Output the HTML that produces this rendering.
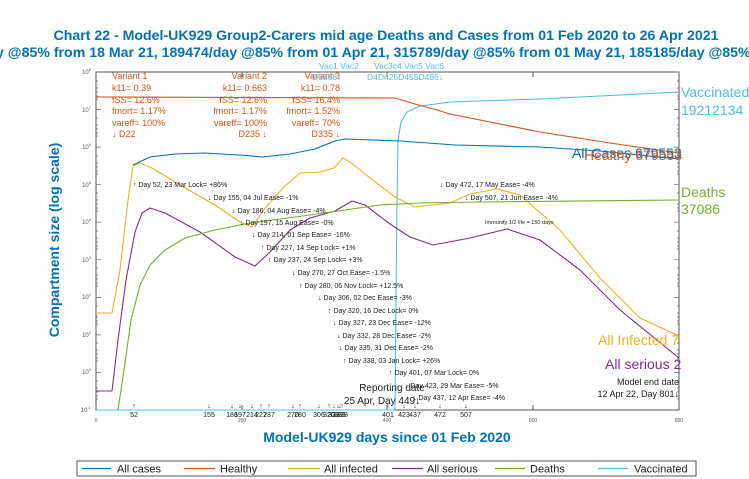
<!DOCTYPE html>
<html><head><meta charset="utf-8"><style>
html,body{margin:0;padding:0;background:#fff;}
svg{display:block;font-family:"Liberation Sans",Arial,sans-serif;}
</style></head><body>
<svg width="749" height="479" viewBox="0 0 749 479" xmlns="http://www.w3.org/2000/svg">
<rect width="749" height="479" fill="#fff"/>
<text x="386" y="40" text-anchor="middle" font-size="14" font-weight="bold" fill="#0072BD" textLength="665" lengthAdjust="spacingAndGlyphs">Chart 22 - Model-UK929 Group2-Carers mid age Deaths and Cases from 01 Feb 2020 to 26 Apr 2021</text>
<text x="-4" y="57" font-size="14" font-weight="bold" fill="#0072BD" textLength="790" lengthAdjust="spacingAndGlyphs">y @85% from 18 Mar 21, 189474/day @85% from 01 Apr 21, 315789/day @85% from 01 May 21, 185185/day @85% from</text>
<rect x="96" y="72" width="583" height="338" fill="none" stroke="#555" stroke-width="1"/>
<g stroke="#555" stroke-width="1">
<line x1="242" y1="410" x2="242" y2="405"/><line x1="387" y1="410" x2="387" y2="405"/><line x1="533" y1="410" x2="533" y2="405"/>
<line x1="242" y1="72" x2="242" y2="77"/><line x1="387" y1="72" x2="387" y2="77"/><line x1="533" y1="72" x2="533" y2="77"/>
</g>
<g stroke="#666" stroke-width="0.7">
<path d="M96 72h5M96 109.5h5M96 147.1h5M96 184.7h5M96 222.2h5M96 259.8h5M96 297.4h5M96 334.9h5M96 372.4h5M679 72h-5M679 109.5h-5M679 147.1h-5M679 184.7h-5M679 222.2h-5M679 259.8h-5M679 297.4h-5M679 334.9h-5M679 372.4h-5"/>
<path d="M96 81h2M96 88h2M96 92h2M96 96h2M96 99h2M96 118h2M96 125h2M96 129h2M96 133h2M96 136h2M96 156h2M96 163h2M96 167h2M96 171h2M96 174h2M96 193h2M96 200h2M96 204h2M96 208h2M96 211h2M96 231h2M96 238h2M96 242h2M96 246h2M96 249h2M96 268h2M96 275h2M96 279h2M96 283h2M96 286h2M96 306h2M96 313h2M96 317h2M96 321h2M96 324h2M96 343h2M96 350h2M96 354h2M96 358h2M96 361h2M96 381h2M96 388h2M96 392h2M96 396h2M96 399h2"/>
<path d="M679 81h-2M679 88h-2M679 92h-2M679 96h-2M679 99h-2M679 118h-2M679 125h-2M679 129h-2M679 133h-2M679 136h-2M679 156h-2M679 163h-2M679 167h-2M679 171h-2M679 174h-2M679 193h-2M679 200h-2M679 204h-2M679 208h-2M679 211h-2M679 231h-2M679 238h-2M679 242h-2M679 246h-2M679 249h-2M679 268h-2M679 275h-2M679 279h-2M679 283h-2M679 286h-2M679 306h-2M679 313h-2M679 317h-2M679 321h-2M679 324h-2M679 343h-2M679 350h-2M679 354h-2M679 358h-2M679 361h-2M679 381h-2M679 388h-2M679 392h-2M679 396h-2M679 399h-2"/>
</g>
<g font-size="6" fill="#555" text-anchor="end">
<text x="91" y="74">10<tspan font-size="4" dy="-3">8</tspan></text>
<text x="91" y="112">10<tspan font-size="4" dy="-3">7</tspan></text>
<text x="91" y="149">10<tspan font-size="4" dy="-3">6</tspan></text>
<text x="91" y="187">10<tspan font-size="4" dy="-3">5</tspan></text>
<text x="91" y="224">10<tspan font-size="4" dy="-3">4</tspan></text>
<text x="91" y="262">10<tspan font-size="4" dy="-3">3</tspan></text>
<text x="91" y="299">10<tspan font-size="4" dy="-3">2</tspan></text>
<text x="91" y="337">10<tspan font-size="4" dy="-3">1</tspan></text>
<text x="91" y="374">10<tspan font-size="4" dy="-3">0</tspan></text>
<text x="91" y="412">10<tspan font-size="4" dy="-3">-1</tspan></text>
</g>
<g font-size="5" fill="#555" text-anchor="middle">
<text x="96" y="422">0</text><text x="242" y="422">200</text><text x="387" y="422">400</text><text x="533" y="422">600</text><text x="679" y="422">800</text>
</g>
<g fill="none" stroke-width="1.1" stroke-linejoin="round">
<path stroke="#4DBEEE" d="M96 410H395L396 300L397 200L398 140L401 122L407 112L420 106L450 102L540 99L679 92"/>
<path stroke="#D95319" d="M96 97L395 98L415 104L437 110L450 114L540 132L610 143L679 153"/>
<path stroke="#0072BD" d="M133 165L150 157L175 154L205 153L240 155L262 157L290 154L315 149L335 141L345 139L400 141L455 145L540 147L600 151L679 159"/>
<path stroke="#EDB120" d="M96 313H112L120 270L128 200L133 166L140 163L152 168L180 185L215 205L240 222L252 227L265 208L285 186L300 173L320 172L334 168L343 158L350 162L370 178L395 197L415 207L450 203L470 194L497 189L520 195L560 230L600 278L640 318L679 336"/>
<path stroke="#7E2F8E" d="M96 391H112L118 340L126 280L135 232L142 213L150 208L165 213L200 232L235 257L255 266L270 252L290 230L310 218L335 211L352 201L365 205L390 224L410 237L433 245L470 238L507 229L540 240L580 270L620 310L679 358"/>
<path stroke="#77AC30" d="M118 410L124 370L131 320L140 285L150 265L165 250L185 238L215 230L250 223L280 219L310 215L345 210L380 205L420 203L480 202L679 200"/>
</g>
<g font-size="14">
<text x="681" y="97" fill="#4DBEEE">Vaccinated</text>
<text x="681" y="115" fill="#4DBEEE">19212134</text>
<text x="572" y="158" fill="#0072BD">All Cases 679553</text>
<text x="584" y="160" fill="#D95319">Healthy 679553</text>
<text x="681" y="197" fill="#77AC30">Deaths</text>
<text x="681" y="214" fill="#77AC30">37086</text>
<text x="598" y="345" fill="#EDB120">All Infected 7</text>
<text x="605" y="369" fill="#7E2F8E">All serious 2</text>
</g>
<g font-size="9" fill="#D95319">
<text x="112" y="79">Variant 1</text><text x="112" y="91">k11= 0.39</text><text x="112" y="103">fSS= 12.6%</text><text x="112" y="114">fmort= 1.17%</text><text x="112" y="126">vareff= 100%</text><text x="112" y="137">↓ D22</text>
</g>
<g font-size="9" fill="#D95319" text-anchor="end">
<text x="267" y="79">Variant 2</text><text x="267" y="91">k11= 0.663</text><text x="267" y="103">fSS= 12.6%</text><text x="267" y="114">fmort= 1.17%</text><text x="267" y="126">vareff= 100%</text><text x="267" y="137">D235 ↓</text>
<text x="340" y="79">Variant 3</text><text x="340" y="91">k11= 0.78</text><text x="340" y="103">fSS= 16.4%</text><text x="340" y="114">fmort= 1.52%</text><text x="340" y="126">vareff= 70%</text><text x="340" y="137">D335 ↓</text>
</g>
<g font-size="8.5" fill="#4DBEEE">
<text x="319" y="69">Vac1 Vac2</text><text x="374" y="69">Vac3c4 Vac5 Vac6</text>
<text x="312" y="80">D3366↓</text><text x="367" y="80">D4D425D455D486↓</text>
</g>
<g font-size="7" fill="#222">
<text x="133" y="187">↑ Day 52, 23 Mar Lock= +86%</text>
<text x="208" y="200">↓ Day 155, 04 Jul Ease= -1%</text>
<text x="232" y="213">↓ Day 186, 04 Aug Ease= -4%</text>
<text x="240" y="225">↓ Day 197, 15 Aug Ease= -0%</text>
<text x="252" y="237">↓ Day 214, 01 Sep Ease= -16%</text>
<text x="261" y="250">↑ Day 227, 14 Sep Lock= +1%</text>
<text x="268" y="262">↑ Day 237, 24 Sep Lock= +3%</text>
<text x="292" y="275">↓ Day 270, 27 Oct Ease= -1.5%</text>
<text x="299" y="288">↑ Day 280, 06 Nov Lock= +12.5%</text>
<text x="318" y="300">↓ Day 306, 02 Dec Ease= -3%</text>
<text x="328" y="313">↑ Day 320, 16 Dec Lock= 0%</text>
<text x="333" y="325">↓ Day 327, 23 Dec Ease= -12%</text>
<text x="337" y="338">↓ Day 332, 28 Dec Ease= -2%</text>
<text x="339" y="350">↓ Day 335, 31 Dec Ease= -2%</text>
<text x="343" y="363">↑ Day 338, 03 Jan Lock= +26%</text>
<text x="389" y="375">↑ Day 401, 07 Mar Lock= 0%</text>
<text x="405" y="388">↓ Day 423, 29 Mar Ease= -5%</text>
<text x="413" y="400">↓ Day 437, 12 Apr Ease= -4%</text>
<text x="440" y="187">↓ Day 472, 17 May Ease= -4%</text>
<text x="465" y="200">↓ Day 507, 21 Jun Ease= -4%</text>
<text x="485" y="224" font-size="5.5">Immunity 1/2 life = 150 days</text>
</g>
<g font-size="10" fill="#222" text-anchor="middle">
<text x="392" y="391">Reporting date</text>
<text x="382" y="404">25 Apr, Day 449↓</text>
</g>
<g font-size="9" fill="#222" text-anchor="end">
<text x="679" y="385">Model end date</text>
<text x="679" y="397">12 Apr 22, Day 801↓</text>
</g>
<g font-size="7" fill="#222" text-anchor="middle">
<text x="134" y="408">↑</text><text x="209" y="408">↓</text><text x="232" y="408">↓</text><text x="240" y="408">↓</text><text x="252" y="408">↓</text><text x="261" y="408">↑</text><text x="269" y="408">↑</text><text x="293" y="408">↓</text><text x="300" y="408">↑</text><text x="319" y="408">↓</text><text x="329" y="408">↑</text><text x="334" y="408">↓</text><text x="338" y="408">↓</text><text x="340" y="408">↓</text><text x="342" y="408">↑</text><text x="388" y="408">↑</text><text x="404" y="408">↓</text><text x="415" y="408">↓</text><text x="440" y="408">↓</text><text x="466" y="408">↓</text>
<text x="134" y="417">52</text><text x="209" y="417">155</text><text x="232" y="417">186</text><text x="240" y="417">197</text><text x="252" y="417">214</text><text x="261" y="417">227</text><text x="269" y="417">237</text><text x="293" y="417">270</text><text x="300" y="417">280</text><text x="319" y="417">306</text><text x="329" y="417">320</text><text x="334" y="417">327</text><text x="338" y="417">332</text><text x="340" y="417">335</text><text x="342" y="417">338</text><text x="388" y="417">401</text><text x="404" y="417">423</text><text x="415" y="417">437</text><text x="440" y="417">472</text><text x="466" y="417">507</text>
</g>
<text x="387" y="442" text-anchor="middle" font-size="14" font-weight="bold" fill="#0072BD">Model-UK929 days since 01 Feb 2020</text>
<text transform="translate(59,240) rotate(-90)" text-anchor="middle" font-size="14" font-weight="bold" fill="#0072BD">Compartment size (log scale)</text>
<rect x="77" y="461" width="619" height="15" fill="#fff" stroke="#555" stroke-width="1"/>
<g stroke-width="1.2">
<line x1="82" y1="468.5" x2="111" y2="468.5" stroke="#0072BD"/>
<line x1="184" y1="468.5" x2="215" y2="468.5" stroke="#D95319"/>
<line x1="288" y1="468.5" x2="320" y2="468.5" stroke="#EDB120"/>
<line x1="392" y1="468.5" x2="423" y2="468.5" stroke="#7E2F8E"/>
<line x1="495" y1="468.5" x2="525" y2="468.5" stroke="#77AC30"/>
<line x1="598" y1="468.5" x2="628" y2="468.5" stroke="#4DBEEE"/>
</g>
<g font-size="11" fill="#222">
<text x="117" y="472.5">All cases</text><text x="220" y="472.5">Healthy</text><text x="324" y="472.5">All infected</text><text x="427" y="472.5">All serious</text><text x="530" y="472.5">Deaths</text><text x="634" y="472.5">Vaccinated</text>
</g>
</svg>
</body></html>
